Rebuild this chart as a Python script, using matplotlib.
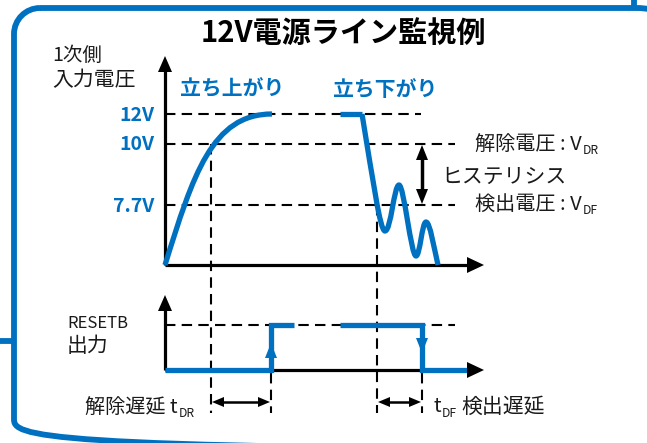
import matplotlib
matplotlib.use("Agg")
import matplotlib.pyplot as plt
from matplotlib.path import Path
from matplotlib.patches import PathPatch, Polygon

plt.rcParams['font.family'] = ['Noto Sans CJK JP', 'DejaVu Sans']

BLUE = '#0070C0'
TXT = '#1a1a1a'

# ---- data (diagram coordinates, pixel space) ----
level_labels = ['12V', '10V', '7.7V']
level_y = [114, 144, 205]
level_end_x = [421, 455, 455]

rise_x = [165, 193, 212, 272]          # cubic bezier control points
rise_y = [265, 175, 114, 114]

fall_flat_x = [340, 362]
fall_x = [362, 373, 380, 385, 391, 394, 399, 404, 411, 416, 420, 422, 426, 430, 434, 438]
fall_y = [114, 180, 231, 231, 231, 185, 185, 185, 256, 256, 256, 222, 222, 222, 248, 265]

reset_x1 = [165, 271, 271, 294]
reset_y1 = [370, 370, 325, 325]
reset_x2 = [340, 422, 422, 470]
reset_y2 = [325, 325, 370, 370]

vdash_x = [211, 377, 271, 422]
vdash_top = [144, 205, 373, 373]
vdash_bot = [413, 413, 413, 413]

fig = plt.figure(figsize=(6.47, 4.43), dpi=100)
ax = fig.add_axes([0, 0, 1, 1])
ax.set_xlim(0, 647)
ax.set_ylim(443, 0)
ax.axis('off')

# frame (rounded rectangle, partly outside the picture)
xl, xr, yt, yb, R, Rb = 14, 700, 8, 449, 26, 30
R2 = xr - 637
k = 0.5523 * R
kb = 0.5523 * Rb
k2 = 0.5523 * R2
fv = [(xl + R, yt), (xr - R2, yt),
      (xr - R2 + k2, yt), (xr, yt + R2 - k2), (xr, yt + R2),
      (xr, yb - Rb),
      (xr, yb - Rb + kb), (xr - Rb + kb, yb), (xr - Rb, yb),
      (xl + Rb, yb),
      (xl + Rb - kb, yb), (xl, yb - Rb + kb), (xl, yb - Rb),
      (xl, yt + R),
      (xl, yt + R - k), (xl + R - k, yt), (xl + R, yt)]
fc = [Path.MOVETO, Path.LINETO,
      Path.CURVE4, Path.CURVE4, Path.CURVE4,
      Path.LINETO,
      Path.CURVE4, Path.CURVE4, Path.CURVE4,
      Path.LINETO,
      Path.CURVE4, Path.CURVE4, Path.CURVE4,
      Path.LINETO,
      Path.CURVE4, Path.CURVE4, Path.CURVE4]
ax.add_patch(PathPatch(Path(fv, fc), fill=False, ec=BLUE, lw=4.2))
ax.plot([634, 634], [0, 8], color=BLUE, lw=4.2, solid_capstyle='butt')
ax.plot([0, 14], [341, 341], color=BLUE, lw=4.2, solid_capstyle='butt')

# title
ax.text(343, 33, '12V電源ライン監視例', ha='center', va='center', fontsize=21,
        fontweight='bold', color='black')

dash = (0, (5, 3))
# horizontal dashed levels
for y, xe in zip(level_y, level_end_x):
    ax.plot([165, xe], [y, y], color='black', lw=1.5, linestyle=dash)
ax.plot([165, 455], [325, 325], color='black', lw=1.5, linestyle=dash)
# vertical dashed
for x, y0, y1 in zip(vdash_x, vdash_top, vdash_bot):
    ax.plot([x, x], [y0, y1], color='black', lw=1.5, linestyle=dash)

# axes with arrows
def tri(pts, color='black'):
    ax.add_patch(Polygon(pts, closed=True, fc=color, ec='none', zorder=5))

ax.plot([165, 165], [265, 66], color='black', lw=2.3, solid_capstyle='butt')
tri([(165, 56), (158, 72), (172, 72)])
ax.plot([165, 470], [265, 265], color='black', lw=2.3, solid_capstyle='butt')
tri([(484, 265), (467, 257), (467, 273)])
ax.plot([165, 165], [370, 305], color='black', lw=2.3, solid_capstyle='butt')
tri([(165, 295), (158, 311), (172, 311)])
ax.plot([165, 470], [370, 370], color='black', lw=2.3, solid_capstyle='butt')
tri([(484, 370), (467, 362), (467, 378)])

# rising curve
verts = list(zip(rise_x, rise_y))
codes = [Path.MOVETO] + [Path.CURVE4] * 3
ax.add_patch(PathPatch(Path(verts, codes), fill=False, ec=BLUE, lw=3.8, capstyle='butt', zorder=4))

# falling curve
ax.plot(fall_flat_x, [114, 114], color=BLUE, lw=3.8, solid_capstyle='butt', zorder=4)
verts = list(zip(fall_x, fall_y))
codes = [Path.MOVETO] + [Path.CURVE4] * (len(verts) - 1)
ax.add_patch(PathPatch(Path(verts, codes), fill=False, ec=BLUE, lw=3.8, capstyle='butt',
                       joinstyle='round', zorder=4))

# RESETB signal
ax.plot(reset_x1, reset_y1, color=BLUE, lw=3.8, solid_capstyle='butt', solid_joinstyle='miter', zorder=4)
ax.plot(reset_x2, reset_y2, color=BLUE, lw=3.8, solid_capstyle='butt', solid_joinstyle='miter', zorder=4)
tri([(271, 343), (265, 358), (277, 358)], BLUE)
tri([(422, 353), (416, 338), (428, 338)], BLUE)

# hysteresis arrow
ax.plot([422, 422], [155, 194], color='black', lw=2.5, solid_capstyle='butt')
tri([(422, 145), (416, 160), (428, 160)])
tri([(422, 204), (416, 189), (428, 189)])

# delay arrows
for x0, x1 in [(211, 271), (377, 422)]:
    ax.plot([x0 + 8, x1 - 8], [402, 402], color='black', lw=1.8, solid_capstyle='butt')
    tri([(x0 + 1, 402), (x0 + 13, 397), (x0 + 13, 407)])
    tri([(x1 - 1, 402), (x1 - 13, 397), (x1 - 13, 407)])

# texts
ax.text(52, 55, '1次側', ha='left', va='center', fontsize=14, color=TXT)
ax.text(52, 80, '入力電圧', ha='left', va='center', fontsize=15, color=TXT)
ax.text(180, 89, '立ち上がり', ha='left', va='center', fontsize=15, fontweight='bold', color=BLUE)
ax.text(333, 89, '立ち下がり', ha='left', va='center', fontsize=15, fontweight='bold', color=BLUE)
for lab, y in zip(level_labels, level_y):
    ax.text(154, y + 1, lab, ha='right', va='center', fontsize=14, fontweight='bold', color=BLUE)

def with_sub(x, y, main, sub, fs=14.5):
    t = ax.text(x, y, main, ha='left', va='center', fontsize=fs, color=TXT)
    s = ax.annotate(sub, xy=(1, 0), xycoords=t, xytext=(0.5, -1.5), textcoords='offset points',
                    ha='left', va='bottom', fontsize=fs * 0.6, color=TXT)
    return t, s

with_sub(475, 144, '解除電圧 : V', 'DR')
ax.text(441, 177, 'ヒステリシス', ha='left', va='center', fontsize=15, color=TXT)
with_sub(475, 204, '検出電圧 : V', 'DF')

ax.text(67, 323, 'RESETB', ha='left', va='center', fontsize=12, color=TXT)
ax.text(67, 346, '出力', ha='left', va='center', fontsize=15, color=TXT)

with_sub(85, 407, '解除遅延 t', 'DR')
with_sub(433, 407, 't', 'DF')
ax.text(461, 407, '検出遅延', ha='left', va='center', fontsize=15, color=TXT)

fig.savefig('out.png', dpi=100)
